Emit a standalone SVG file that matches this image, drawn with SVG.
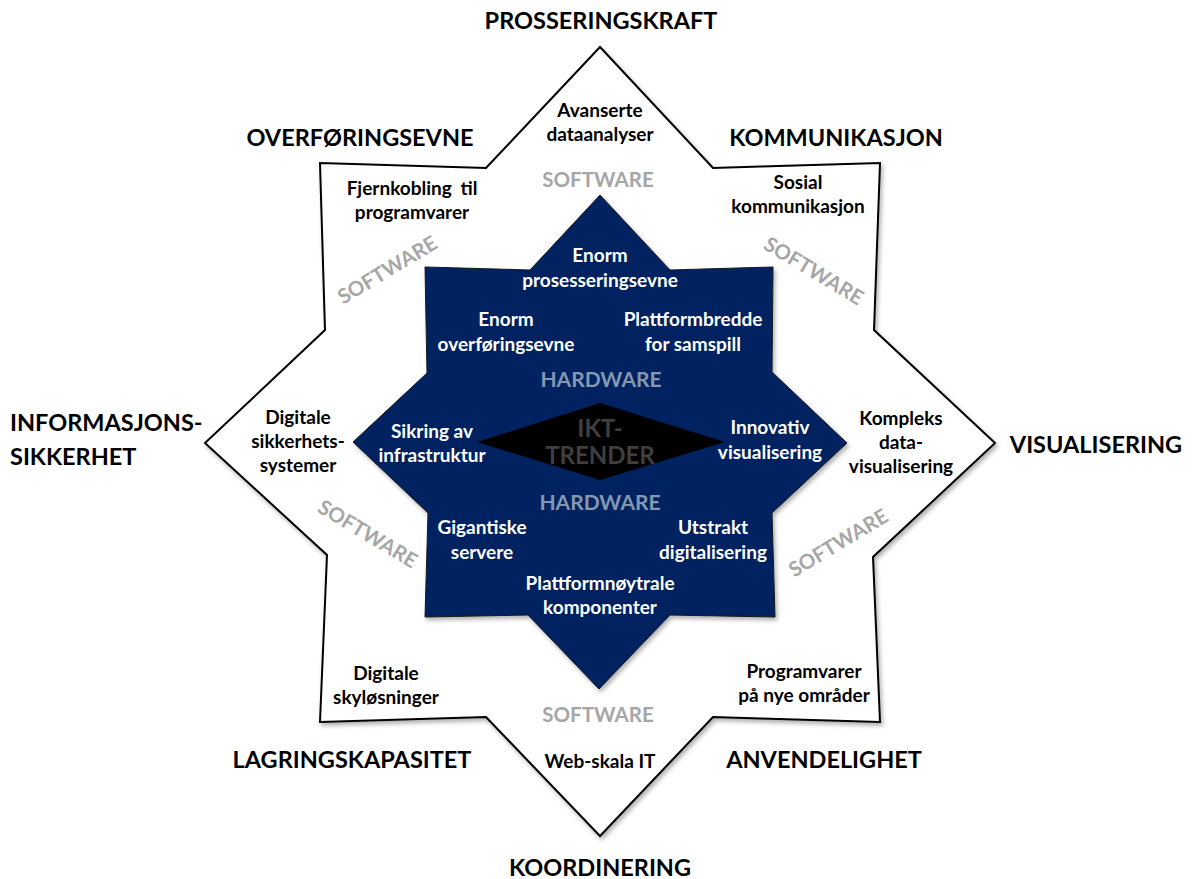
<svg xmlns="http://www.w3.org/2000/svg" width="1195" height="879" viewBox="0 0 1195 879">
<defs>
<filter id="sh" x="-10%" y="-10%" width="120%" height="120%">
<feDropShadow dx="2" dy="3" stdDeviation="2" flood-color="#000" flood-opacity="0.3"/>
</filter>
<style>
text{font-family:Lato,"Open Sans","Liberation Sans",sans-serif;font-weight:bold;text-anchor:middle}
.h{font-size:23.5px;fill:#000}
.t{font-size:19px;fill:#000}
.w{font-size:19px;fill:#fff}
.sw{font-size:20.5px;fill:#a6a6a6}
.hw{font-size:21px;fill:#8497b0}
.ikt{font-size:24px;fill:#3f3f3f}
</style>
</defs>
<rect width="1195" height="879" fill="#fff"/>
<g id="outer-star">
<polygon points="600,47 713,168 880,163 874,330 995,443 873,557 880,722 713,717 600,836 486,717 320,722 327,555 205,443 325,330 320,163 486,168" fill="#fff" stroke="#000" stroke-width="2" stroke-linejoin="miter" filter="url(#sh)"/>
</g>
<g id="inner-star">
<polygon points="600,195 670,270 773,267 772,372 847,443 772,513 775,617 670,615 599,689 528,615 425,617 428,513 353,442 427,373 425,267 530,270" fill="#002060" stroke="#1a1a1a" stroke-width="1" filter="url(#sh)"/>
</g>
<g id="center">
<polygon points="477,442 600,403 725,442 600,480" fill="#000"/>
<text class="ikt" x="600" y="437">IKT-</text>
<text class="ikt" x="600" y="464">TRENDER</text>
</g>
<g id="headings">
<text class="h" x="601" y="29">PROSSERINGSKRAFT</text>
<text class="h" x="360" y="146">OVERFØRINGSEVNE</text>
<text class="h" x="836" y="146">KOMMUNIKASJON</text>
<text class="h" x="10" y="431" style="text-anchor:start">INFORMASJONS-</text>
<text class="h" x="10" y="465" style="text-anchor:start">SIKKERHET</text>
<text class="h" x="1096" y="453">VISUALISERING</text>
<text class="h" x="352" y="768">LAGRINGSKAPASITET</text>
<text class="h" x="824" y="768">ANVENDELIGHET</text>
<text class="h" x="600" y="876">KOORDINERING</text>
</g>
<g id="software-labels">
<text class="t" x="600" y="117">Avanserte</text>
<text class="t" x="600" y="141">dataanalyser</text>
<text class="t" x="412" y="195" style="word-spacing:4px">Fjernkobling til</text>
<text class="t" x="412" y="219">programvarer</text>
<text class="t" x="798" y="189">Sosial</text>
<text class="t" x="798" y="213">kommunikasjon</text>
<text class="t" x="298" y="424">Digitale</text>
<text class="t" x="298" y="448">sikkerhets-</text>
<text class="t" x="298" y="472">systemer</text>
<text class="t" x="901" y="425">Kompleks</text>
<text class="t" x="901" y="449">data-</text>
<text class="t" x="901" y="473">visualisering</text>
<text class="t" x="386" y="680">Digitale</text>
<text class="t" x="386" y="704">skyløsninger</text>
<text class="t" x="804" y="678">Programvarer</text>
<text class="t" x="804" y="702">på nye områder</text>
<text class="t" x="600" y="768">Web-skala IT</text>
</g>
<g id="software-tags">
<text class="sw" x="598" y="187">SOFTWARE</text>
<text class="sw" x="598" y="722">SOFTWARE</text>
<text class="sw" transform="translate(391,276) rotate(-31)">SOFTWARE</text>
<text class="sw" transform="translate(810,277) rotate(31)">SOFTWARE</text>
<text class="sw" transform="translate(364,540) rotate(31)">SOFTWARE</text>
<text class="sw" transform="translate(842,549) rotate(-31)">SOFTWARE</text>
</g>
<g id="hardware-labels">
<text class="w" x="600" y="262">Enorm</text>
<text class="w" x="600" y="287">prosesseringsevne</text>
<text class="w" x="506" y="326">Enorm</text>
<text class="w" x="506" y="351">overføringsevne</text>
<text class="w" x="693" y="326">Plattformbredde</text>
<text class="w" x="693" y="351">for samspill</text>
<text class="hw" x="601" y="387">HARDWARE</text>
<text class="w" x="432" y="438">Sikring av</text>
<text class="w" x="432" y="462">infrastruktur</text>
<text class="w" x="770" y="434">Innovativ</text>
<text class="w" x="770" y="459">visualisering</text>
<text class="hw" x="600" y="510">HARDWARE</text>
<text class="w" x="482" y="534">Gigantiske</text>
<text class="w" x="482" y="559">servere</text>
<text class="w" x="713" y="534">Utstrakt</text>
<text class="w" x="713" y="559">digitalisering</text>
<text class="w" x="600" y="590">Plattformnøytrale</text>
<text class="w" x="600" y="614">komponenter</text>
</g>
</svg>
